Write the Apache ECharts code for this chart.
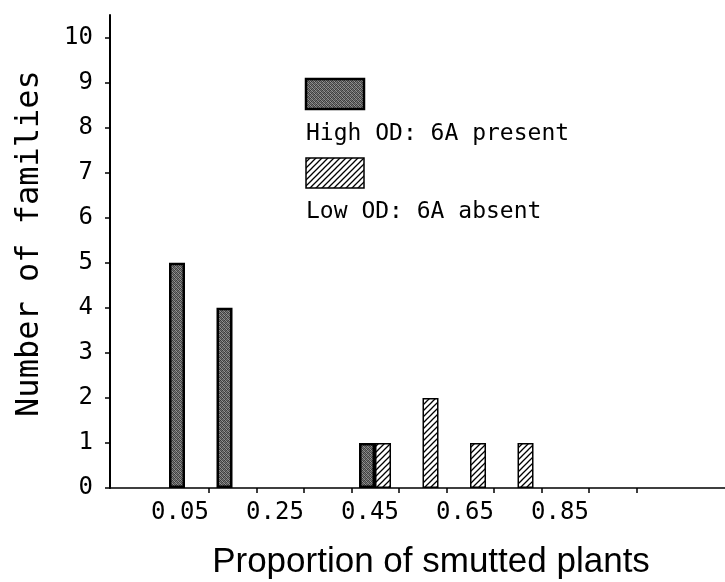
<!DOCTYPE html>
<html>
<head>
<meta charset="utf-8">
<script src="https://cdn.jsdelivr.net/npm/echarts@6/dist/echarts.min.js"></script>
<style>html,body{margin:0;padding:0;background:#fff}#c{width:725px;height:582px}</style>
</head>
<body>
<div id="c"></div>
<script>
// ---- data ----
const highX = [0.05, 0.15, 0.45];
const highY = [5, 4, 1];
const lowX = [0.45, 0.55, 0.65, 0.75];
const lowY = [1, 2, 1, 1];
const xLabelValues = [0.05, 0.25, 0.45, 0.65, 0.85];
const xTickValues = [0.1, 0.2, 0.3, 0.4, 0.5, 0.6, 0.7, 0.8, 0.9, 1.0];
const yTickValues = [0, 1, 2, 3, 4, 5, 6, 7, 8, 9, 10];
const highName = 'High OD: 6A present';
const lowName = 'Low OD: 6A absent';
const xTitle = 'Proportion of smutted plants';
const yTitle = 'Number of families';

// ---- fill patterns ----
function makeHatch() {
  const c = document.createElement('canvas');
  c.width = 6; c.height = 6;
  const g = c.getContext('2d');
  g.fillStyle = '#fff'; g.fillRect(0, 0, 6, 6);
  g.strokeStyle = '#000'; g.lineWidth = 1.3;
  g.beginPath();
  g.moveTo(-1, 7); g.lineTo(7, -1);
  g.moveTo(-1, 1); g.lineTo(1, -1);
  g.moveTo(5, 7); g.lineTo(7, 5);
  g.stroke();
  return c;
}
function makeStipple() {
  const c = document.createElement('canvas');
  c.width = 4; c.height = 4;
  const g = c.getContext('2d');
  const cols = [
    ['#3a3a3a', '#8c8c8c', '#4a4a4a', '#6e6e6e'],
    ['#7a7a7a', '#444', '#9a9a9a', '#383838'],
    ['#505050', '#6a6a6a', '#3c3c3c', '#909090'],
    ['#959595', '#404040', '#787878', '#555']
  ];
  for (let y = 0; y < 4; y++) for (let x = 0; x < 4; x++) {
    g.fillStyle = cols[y][x]; g.fillRect(x, y, 1, 1);
  }
  return c;
}
const hatch = { image: makeHatch(), repeat: 'repeat' };
const stipple = { image: makeStipple(), repeat: 'repeat' };

const mono = '"DejaVu Sans Mono"';

const chart = echarts.init(document.getElementById('c'), null, { renderer: 'canvas' });
chart.setOption({
  backgroundColor: '#fff',
  animation: false,
  grid: { left: 110, right: 0, top: 15, bottom: 94, containLabel: false, outerBoundsMode: 'none' },
  xAxis: {
    type: 'value',
    min: -0.1079,
    max: 1.1868,
    splitLine: { show: false },
    axisLine: { show: true, onZero: false, lineStyle: { color: '#000', width: 1.5 } },
    axisTick: { show: true, inside: false, length: 5, customValues: xTickValues, lineStyle: { color: '#000', width: 1.5 } },
    axisLabel: {
      show: true, customValues: xLabelValues, margin: 13,
      color: '#000', fontFamily: 'DejaVu Sans Mono', fontSize: 24,
      padding: [0, 10, 0, 0],
      formatter: v => v.toFixed(2)
    },
    name: xTitle,
    nameLocation: 'middle',
    nameGap: 57,
    nameTextStyle: { color: '#000', fontFamily: 'Liberation Sans', fontSize: 35, padding: [0, 0, 0, 27] }
  },
  yAxis: {
    type: 'value',
    min: 0,
    max: 10.5,
    splitLine: { show: false },
    axisLine: { show: true, onZero: false, lineStyle: { color: '#000', width: 2 } },
    axisTick: { show: true, inside: false, length: 5, customValues: yTickValues, lineStyle: { color: '#000', width: 1.5 } },
    axisLabel: {
      show: true, customValues: yTickValues, margin: 17,
      color: '#000', fontFamily: 'DejaVu Sans Mono', fontSize: 24
    },
    name: yTitle,
    nameLocation: 'middle',
    nameGap: 64,
    nameTextStyle: { color: '#000', fontFamily: 'DejaVu Sans Mono', fontSize: 32, padding: [0, 0, 0, 16] }
  },
  series: [
    {
      name: highName, type: 'bar',
      data: highX.map((x, i) => [x, highY[i]]),
      barWidth: 16, barGap: '0%',
      itemStyle: { color: stipple, borderColor: '#000', borderWidth: 2.5 }
    },
    {
      name: lowName, type: 'bar',
      data: lowX.map((x, i) => [x, lowY[i]]),
      barWidth: 16, barGap: '0%',
      itemStyle: { color: hatch, borderColor: '#000', borderWidth: 1.5 }
    }
  ],
  graphic: [
    { type: 'rect', shape: { x: 306, y: 79, width: 58, height: 30 }, style: { fill: stipple, stroke: '#000', lineWidth: 2.5 } },
    { type: 'text', x: 306, y: 134, style: { text: highName, font: '23px ' + mono, fill: '#000', verticalAlign: 'middle', align: 'left' } },
    { type: 'rect', shape: { x: 306, y: 158, width: 58, height: 30 }, style: { fill: hatch, stroke: '#000', lineWidth: 1.5 } },
    { type: 'text', x: 306, y: 212, style: { text: lowName, font: '23px ' + mono, fill: '#000', verticalAlign: 'middle', align: 'left' } }
  ]
});
</script>
</body>
</html>
